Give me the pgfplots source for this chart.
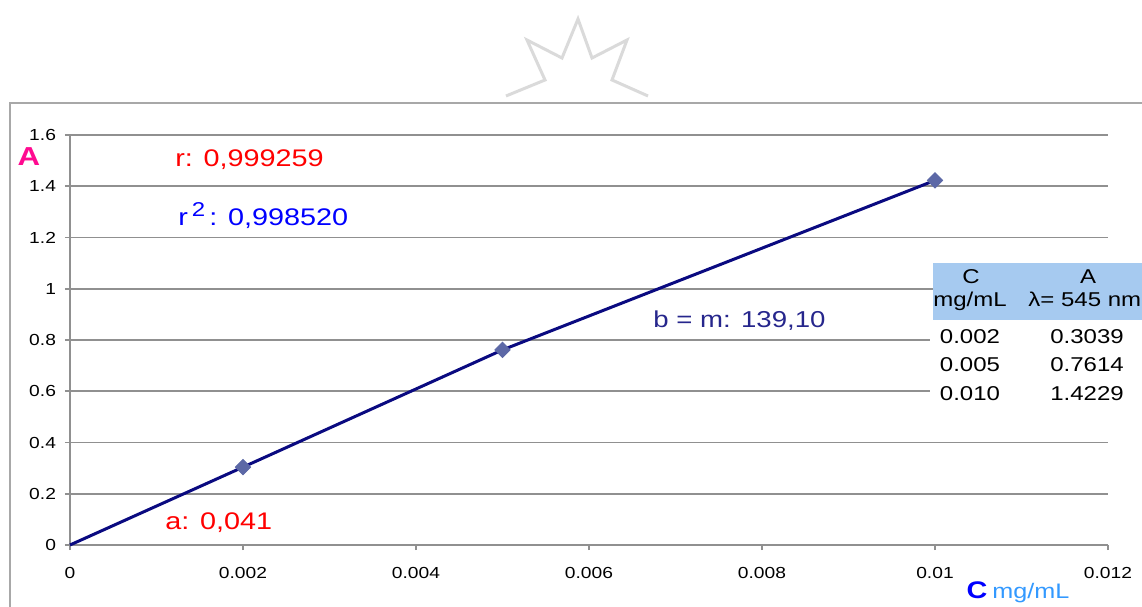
\documentclass[border=0pt]{standalone}
\usepackage{fontspec}
\setmainfont[FakeStretch=1.2]{Liberation Sans}
\usepackage{pgfplots}
\pgfplotsset{compat=1.18}
\definecolor{gridgray}{HTML}{909090}
\definecolor{framegray}{HTML}{A8A8A8}
\definecolor{stargray}{HTML}{DADADA}
\definecolor{navyline}{HTML}{0A0A80}
\definecolor{markblue}{HTML}{5C68A6}
\definecolor{bmcol}{HTML}{26268C}
\definecolor{pinkA}{HTML}{FF0A90}
\definecolor{lightblue}{HTML}{3399FF}
\definecolor{tablebg}{HTML}{A6CAF0}
\begin{document}
\begin{tikzpicture}
\path[use as bounding box] (0,0) rectangle (571pt,303pt);
\begin{scope}[x=0.5pt,y=-0.5pt,shift={(0pt,303pt)}]
  % watermark star
  \draw[stargray, line width=1.5pt, line join=miter]
    (506,96) -- (545,80) -- (527,40) -- (562,58) -- (578,19) -- (592,58) -- (627,40) -- (612,80) -- (648,96);
  % frame
  \draw[framegray, line width=1pt] (10,610) -- (10,103) -- (1150,103);
\end{scope}
\begin{axis}[
  at={(35pt,30.5pt)}, anchor=south west,
  scale only axis, width=519pt, height=205pt,
  xmin=0, xmax=0.012, ymin=0, ymax=1.6,
  axis lines=left,
  axis line style={gridgray, line width=0.9pt, -},
  scaled x ticks=false, scaled y ticks=false,
  xtick={0,0.002,0.004,0.006,0.008,0.01,0.012},
  xticklabels={0,0.002,0.004,0.006,0.008,0.01,0.012},
  ytick={0,0.2,0.4,0.6,0.8,1,1.2,1.4,1.6},
  yticklabels={0,0.2,0.4,0.6,0.8,1,1.2,1.4,1.6},
  ymajorgrids,
  grid style={gridgray, line width=0.9pt},
  tick style={gridgray, line width=0.9pt},
  tick align=outside, major tick length=2.5pt,
  tick label style={font=\fontsize{8}{9}\selectfont, black},
  /pgf/number format/assume math mode=true,
  xticklabel style={yshift=-5pt},
  yticklabel style={xshift=-1pt},
  clip=false,
]
\addplot[navyline, line width=1.5pt, mark=none] coordinates {(0,0) (0.002,0.3039) (0.005,0.7614) (0.01,1.4229)};
\addplot[only marks, mark=square*, mark size=2.7pt, mark options={rotate=45, fill=markblue, draw=markblue}] coordinates {(0.002,0.3039) (0.005,0.7614) (0.01,1.4229)};
\end{axis}
\begin{scope}[x=0.5pt,y=-0.5pt,shift={(0pt,303pt)}]
  % table
  \fill[white] (930,320) rectangle (1150,410);
  \fill[tablebg] (933,263) rectangle (1150,320);
  \begin{scope}[every node/.style={inner sep=0pt, anchor=base, font=\fontsize{10}{12}\selectfont}]
    \node at (971,284) {C};
    \node at (1088,284) {A};
    \node at (970,307) {mg/mL};
    \node[anchor=base west] at (1028,307) {λ= 545 nm};
    \node at (970,343.5) {0.002};
    \node at (1087,343.5) {0.3039};
    \node at (970,371.5) {0.005};
    \node at (1087,371.5) {0.7614};
    \node at (970,400.5) {0.010};
    \node at (1087,400.5) {1.4229};
  \end{scope}
  % annotations
  \node[inner sep=0pt, anchor=base west, red, font=\fontsize{12}{14}\selectfont] at (175,167) {r: 0,999259};
  \node[inner sep=0pt, anchor=base west, blue, font=\fontsize{12}{14}\selectfont] at (178,226) {r\,\raisebox{0.75ex}{\fontsize{10}{10}\selectfont 2}\,: 0,998520};
  \node[inner sep=0pt, anchor=base west, bmcol, font=\fontsize{11.5}{14}\selectfont] at (653,328) {b = m: 139,10};
  \node[inner sep=0pt, anchor=base west, red, font=\fontsize{12}{14}\selectfont] at (165,530) {a: 0,041};
  \node[inner sep=0pt, anchor=base, pinkA, font=\bfseries\fontsize{13}{14}\selectfont] at (29,166) {A};
  \node[inner sep=0pt, anchor=base, blue, font=\bfseries\fontsize{12}{14}\selectfont] at (977,598) {C};
  \node[inner sep=0pt, anchor=base west, lightblue, font=\fontsize{10.5}{12}\selectfont] at (992,598) {mg/mL};
\end{scope}
\end{tikzpicture}
\end{document}
